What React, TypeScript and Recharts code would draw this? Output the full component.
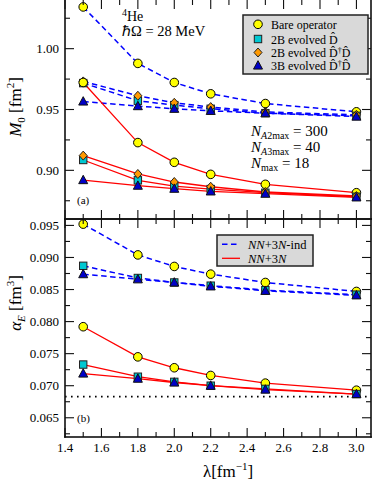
import React from "react";
import { LineChart, Line, XAxis, YAxis, ReferenceLine } from "recharts";

// lambda values [fm^-1]
const lambdas = [1.5, 1.8, 2.0, 2.2, 2.5, 3.0];

// panel (a): M0 [fm^2], dashed = NN+3N-ind, solid = NN+3N
const m0BareInd = [1.0343, 0.9879, 0.9722, 0.9629, 0.9549, 0.9481];
const m0D2Ind = [0.9717, 0.9572, 0.9536, 0.9506, 0.947, 0.9448];
const m0DD2Ind = [0.9731, 0.9613, 0.9555, 0.952, 0.948, 0.9456];
const m0DD3Ind = [0.9566, 0.9528, 0.9506, 0.9489, 0.947, 0.9442];
const m0Bare3N = [0.9722, 0.9228, 0.9066, 0.8967, 0.8885, 0.8816];
const m0D23N = [0.9085, 0.8918, 0.8871, 0.8846, 0.8816, 0.8783];
const m0DD23N = [0.9121, 0.897, 0.8904, 0.8865, 0.8822, 0.8789];
const m0DD33N = [0.892, 0.8874, 0.8849, 0.8827, 0.8808, 0.8778];

// panel (b): alpha_E [fm^3]
const aBareInd = [0.0952, 0.0904, 0.0886, 0.0874, 0.0861, 0.0847];
const aD2Ind = [0.0887, 0.0868, 0.0861, 0.0856, 0.0849, 0.0842];
const aDD3Ind = [0.0874, 0.0866, 0.0861, 0.0855, 0.0848, 0.0841];
const aBare3N = [0.0792, 0.0745, 0.0728, 0.0716, 0.0704, 0.0693];
const aD23N = [0.0733, 0.0714, 0.0706, 0.07, 0.0695, 0.0687];
const aDD33N = [0.0719, 0.0711, 0.0705, 0.07, 0.0694, 0.0687];
const aExact = 0.0683;

// ticks
const xMajor = [1.4, 1.6, 1.8, 2.0, 2.2, 2.4, 2.6, 2.8, 3.0];
const xMinor = [1.5, 1.7, 1.9, 2.1, 2.3, 2.5, 2.7, 2.9];
const m0Major = [0.9, 0.95, 1.0];
const m0Minor = [0.875, 0.925, 0.975, 1.025];
const aMajor = [0.065, 0.07, 0.075, 0.08, 0.085, 0.09, 0.095];
const aMinor = [0.0625, 0.0675, 0.0725, 0.0775, 0.0825, 0.0875, 0.0925];

const X_DOMAIN: [number, number] = [1.4, 3.08];
const M0_DOMAIN: [number, number] = [0.86, 1.04];
const A_DOMAIN: [number, number] = [0.062, 0.096];

const FONT = "Liberation Serif";
const BLUE = "#0000ff";
const RED = "#ff0000";
const INK = "#111111";
const W = 374;
const LEFT = 65;
const RIGHT = 3;
const PLOT_W = W - LEFT - RIGHT;
// plot boxes (page px)
const TOP_A = 0;
const BOT_A = 219;
const TOP_B = 219;
const BOT_B = 437;

type Shape = "circle" | "square" | "diamond" | "triangle";

interface Series {
  key: string;
  values: number[];
  shape: Shape;
  dashed: boolean;
}

const m0Series: Series[] = [
  { key: "bareInd", values: m0BareInd, shape: "circle", dashed: true },
  { key: "d2Ind", values: m0D2Ind, shape: "square", dashed: true },
  { key: "dd2Ind", values: m0DD2Ind, shape: "diamond", dashed: true },
  { key: "dd3Ind", values: m0DD3Ind, shape: "triangle", dashed: true },
  { key: "bare3N", values: m0Bare3N, shape: "circle", dashed: false },
  { key: "d23N", values: m0D23N, shape: "square", dashed: false },
  { key: "dd23N", values: m0DD23N, shape: "diamond", dashed: false },
  { key: "dd33N", values: m0DD33N, shape: "triangle", dashed: false },
];

const aSeries: Series[] = [
  { key: "bareInd", values: aBareInd, shape: "circle", dashed: true },
  { key: "d2Ind", values: aD2Ind, shape: "square", dashed: true },
  { key: "dd3Ind", values: aDD3Ind, shape: "triangle", dashed: true },
  { key: "bare3N", values: aBare3N, shape: "circle", dashed: false },
  { key: "d23N", values: aD23N, shape: "square", dashed: false },
  { key: "dd33N", values: aDD33N, shape: "triangle", dashed: false },
];

const toRows = (series: Series[]) =>
  lambdas.map((lam, i) => {
    const row: Record<string, number> = { lam };
    series.forEach((s) => (row[s.key] = s.values[i]));
    return row;
  });

const Marker = ({ cx, cy, shape }: { cx: number; cy: number; shape: Shape }) => {
  if (cx == null || cy == null) return null;
  if (shape === "circle")
    return <circle cx={cx} cy={cy} r={4.3} fill="#ffff00" stroke="#000" strokeWidth={1} />;
  if (shape === "square")
    return <rect x={cx - 3.7} y={cy - 3.7} width={7.4} height={7.4} fill="#00c8d2" stroke="#222" strokeWidth={1} />;
  if (shape === "diamond")
    return (
      <polygon
        points={`${cx},${cy - 4.5} ${cx + 4},${cy} ${cx},${cy + 4.5} ${cx - 4},${cy}`}
        fill="#ff9900"
        stroke="#222"
        strokeWidth={1}
      />
    );
  return (
    <polygon
      points={`${cx},${cy - 4.8} ${cx + 4.5},${cy + 3.6} ${cx - 4.5},${cy + 3.6}`}
      fill="#0000c8"
      stroke="#111"
      strokeWidth={1}
    />
  );
};

const near = (list: number[], v: number) => list.some((m) => Math.abs(m - v) < 1e-9);

const xLabel = (props: any) => {
  const v = Number(props.payload.value);
  return (
    <text x={props.x} y={props.y + 15} textAnchor="middle" fontSize={13} fontFamily={FONT} fill="#000">
      {v.toFixed(1)}
    </text>
  );
};

const yLabel = (digits: number) => (props: any) => {
  const v = Number(props.payload.value);
  return (
    <text x={props.x - 6} y={props.y + 4.5} textAnchor="end" fontSize={13} fontFamily={FONT} fill="#000">
      {v.toFixed(digits)}
    </text>
  );
};

interface PanelProps {
  series: Series[];
  domain: [number, number];
  yMajor: number[];
  digits: number;
  height: number;
  top: number;
  xAxisHeight: number;
  showX: boolean;
  children?: React.ReactNode;
}

const Panel = ({ series, domain, yMajor, digits, height, top, xAxisHeight, showX, children }: PanelProps) => {
  const renderDot = (shape: Shape) => (p: any) =>
    <Marker key={`${p.dataKey}-${p.index}`} cx={p.cx} cy={p.cy} shape={shape} />;
  return (
    <LineChart width={W} height={height} data={toRows(series)} margin={{ top, right: RIGHT, bottom: 0, left: 0 }}>
      <XAxis
        xAxisId="b"
        dataKey="lam"
        type="number"
        domain={X_DOMAIN}
        ticks={xMajor}
        interval={0}
        allowDataOverflow
        tickSize={0}
        tickMargin={0}
        tickLine={false}
        axisLine={false}
        height={xAxisHeight}
        tick={showX ? xLabel : false}
      />
      <YAxis
        yAxisId="l"
        type="number"
        domain={domain}
        ticks={yMajor}
        interval={0}
        allowDataOverflow
        tickSize={0}
        tickMargin={0}
        tickLine={false}
        axisLine={false}
        width={LEFT}
        tick={yLabel(digits)}
      />
      {children}
      {series.map((s) => (
        <Line
          key={s.key}
          xAxisId="b"
          yAxisId="l"
          type="linear"
          dataKey={s.key}
          stroke={s.dashed ? BLUE : RED}
          strokeWidth={s.dashed ? 1.5 : 1.3}
          strokeDasharray={s.dashed ? "5.5 3.5" : undefined}
          dot={false}
          activeDot={false}
          isAnimationActive={false}
        />
      ))}
      {series.map((s) => (
        <Line
          key={s.key + "-m"}
          xAxisId="b"
          yAxisId="l"
          type="linear"
          dataKey={s.key}
          stroke="none"
          dot={renderDot(s.shape)}
          activeDot={false}
          isAnimationActive={false}
        />
      ))}
    </LineChart>
  );
};

// box with inward ticks on all four sides of a panel, drawn as thin filled bars
const Frame = ({ domain, yMajor, yMinor, top, bottom, topEdge }: {
  domain: [number, number];
  yMajor: number[];
  yMinor: number[];
  top: number;
  bottom: number;
  topEdge: boolean;
}) => {
  const R = LEFT + PLOT_W;
  const px = (v: number) => LEFT + ((v - X_DOMAIN[0]) / (X_DOMAIN[1] - X_DOMAIN[0])) * PLOT_W;
  const py = (v: number) => top + ((domain[1] - v) / (domain[1] - domain[0])) * (bottom - top);
  const t = 1.1;
  const f = 1.6;
  const bars: React.ReactNode[] = [];
  [...xMajor, ...xMinor].forEach((v) => {
    const l = near(xMajor, v) ? 9 : 5;
    const x = px(v) - t / 2;
    bars.push(<rect key={`xb${v}`} x={x} y={bottom - l} width={t} height={l} />);
    bars.push(<rect key={`xt${v}`} x={x} y={top} width={t} height={l} />);
  });
  [...yMajor, ...yMinor].forEach((v) => {
    const l = near(yMajor, v) ? 9 : 5;
    const y = py(v) - t / 2;
    bars.push(<rect key={`yl${v}`} x={LEFT} y={y} width={l} height={t} />);
    bars.push(<rect key={`yr${v}`} x={R - l} y={y} width={l} height={t} />);
  });
  bars.push(<rect key="fl" x={LEFT - f / 2} y={top - f / 2} width={f} height={bottom - top + f} />);
  bars.push(<rect key="fr" x={R - f / 2} y={top - f / 2} width={f} height={bottom - top + f} />);
  bars.push(<rect key="fb" x={LEFT - f / 2} y={bottom - f / 2} width={PLOT_W + f} height={f} />);
  if (topEdge) bars.push(<rect key="ft" x={LEFT - f / 2} y={top - f / 2} width={PLOT_W + f} height={f} />);
  return <g fill={INK}>{bars}</g>;
};

const Hat = ({ children }: { children: string }) => <tspan>{children + "\u0302"}</tspan>;

const Overlay = () => (
  <svg width={W} height={482} style={{ position: "absolute", left: 0, top: 0, pointerEvents: "none" }} fontFamily={FONT}>
    <Frame domain={M0_DOMAIN} yMajor={m0Major} yMinor={m0Minor} top={TOP_A} bottom={BOT_A} topEdge={false} />
    <Frame domain={A_DOMAIN} yMajor={aMajor} yMinor={aMinor} top={TOP_B} bottom={BOT_B} topEdge={true} />

    {/* axis titles */}
    <text transform="translate(21,107) rotate(-90)" textAnchor="middle" fontSize={17} fill="#000">
      <tspan fontStyle="italic">M</tspan>
      <tspan fontSize={11} dy={4}>0</tspan>
      <tspan dy={-4}>{"  [fm"}</tspan>
      <tspan fontSize={11} dy={-7}>2</tspan>
      <tspan dy={7}>]</tspan>
    </text>
    <text transform="translate(21,303) rotate(-90)" textAnchor="middle" fontSize={17} fill="#000">
      <tspan fontStyle="italic">α</tspan>
      <tspan fontSize={11} fontStyle="italic" dy={4}>E</tspan>
      <tspan dy={-4}>{" [fm"}</tspan>
      <tspan fontSize={11} dy={-7}>3</tspan>
      <tspan dy={7}>]</tspan>
    </text>
    <text x={228} y={477} textAnchor="middle" fontSize={17} fill="#000">
      <tspan>λ[fm</tspan>
      <tspan fontSize={11} dy={-7}>−1</tspan>
      <tspan dy={7}>]</tspan>
    </text>

    {/* annotations */}
    <text x={122} y={21} fontSize={14} fill="#000">
      <tspan fontSize={10} dy={-5}>4</tspan>
      <tspan dy={5}>He</tspan>
    </text>
    <text x={122} y={36} fontSize={14.5} fill="#000">
      ℏΩ = 28 MeV
    </text>
    <text x={251} y={136} fontSize={15} fill="#000">
      <tspan fontStyle="italic">N</tspan>
      <tspan fontSize={10} dy={3}><tspan fontStyle="italic">A</tspan>2max</tspan>
      <tspan dy={-3}> = 300</tspan>
    </text>
    <text x={251} y={152} fontSize={15} fill="#000">
      <tspan fontStyle="italic">N</tspan>
      <tspan fontSize={10} dy={3}><tspan fontStyle="italic">A</tspan>3max</tspan>
      <tspan dy={-3}> = 40</tspan>
    </text>
    <text x={251} y={168} fontSize={15} fill="#000">
      <tspan fontStyle="italic">N</tspan>
      <tspan fontSize={10} dy={3}>max</tspan>
      <tspan dy={-3}> = 18</tspan>
    </text>
    <text x={77} y={204} fontSize={11} fill="#000">(a)</text>
    <text x={77} y={422} fontSize={11} fill="#000">(b)</text>

    {/* legend (a) */}
    <rect x={243} y={15} width={125} height={59} fill="#d9d9d9" stroke="#222" strokeWidth={1.5} />
    <Marker cx={258} cy={24.3} shape="circle" />
    <Marker cx={258} cy={39} shape="square" />
    <Marker cx={258} cy={52.5} shape="diamond" />
    <Marker cx={258} cy={65.5} shape="triangle" />
    <text x={271} y={28.5} fontSize={12} fill="#000">Bare operator</text>
    <text x={271} y={43.5} fontSize={12} fill="#000">
      2B evolved <Hat>D</Hat>
    </text>
    <text x={271} y={57} fontSize={12} fill="#000">
      2B evolved <Hat>D</Hat>
      <tspan fontSize={8} dy={-4}>†</tspan>
      <tspan dy={4}>{"D\u0302"}</tspan>
    </text>
    <text x={271} y={70} fontSize={12} fill="#000">
      3B evolved <Hat>D</Hat>
      <tspan fontSize={8} dy={-4}>†</tspan>
      <tspan dy={4}>{"D\u0302"}</tspan>
    </text>

    {/* legend (b) */}
    <rect x={217} y={235} width={96} height={31} fill="#d9d9d9" stroke="#222" strokeWidth={1.5} />
    <line x1={222} y1={244.3} x2={240} y2={244.3} stroke={BLUE} strokeWidth={1.5} strokeDasharray="5.5 3.5" />
    <line x1={222} y1={258.3} x2={240} y2={258.3} stroke={RED} strokeWidth={1.3} />
    <text x={248} y={248.5} fontSize={12.5} fill="#000">
      <tspan fontStyle="italic">NN</tspan>+3<tspan fontStyle="italic">N</tspan>-ind
    </text>
    <text x={248} y={262.5} fontSize={12.5} fill="#000">
      <tspan fontStyle="italic">NN</tspan>+3<tspan fontStyle="italic">N</tspan>
    </text>
  </svg>
);

const App = () => (
  <div style={{ position: "absolute", left: 0, top: 0, width: W, height: 482, background: "#fff", fontFamily: FONT }}>
    <div style={{ position: "absolute", left: 0, top: 0 }}>
      <Panel
        series={m0Series}
        domain={M0_DOMAIN}
        yMajor={m0Major}
        digits={2}
        height={221}
        top={TOP_A}
        xAxisHeight={221 - BOT_A}
        showX={false}
      />
    </div>
    <div style={{ position: "absolute", left: 0, top: TOP_B - 1 }}>
      <Panel
        series={aSeries}
        domain={A_DOMAIN}
        yMajor={aMajor}
        digits={3}
        height={482 - TOP_B + 1}
        top={1}
        xAxisHeight={482 - BOT_B}
        showX={true}
      >
        <ReferenceLine
          xAxisId="b"
          yAxisId="l"
          y={aExact}
          stroke="#000"
          strokeWidth={1.6}
          strokeDasharray="1.6 4.4"
        />
      </Panel>
    </div>
    <Overlay />
  </div>
);

export default App;
